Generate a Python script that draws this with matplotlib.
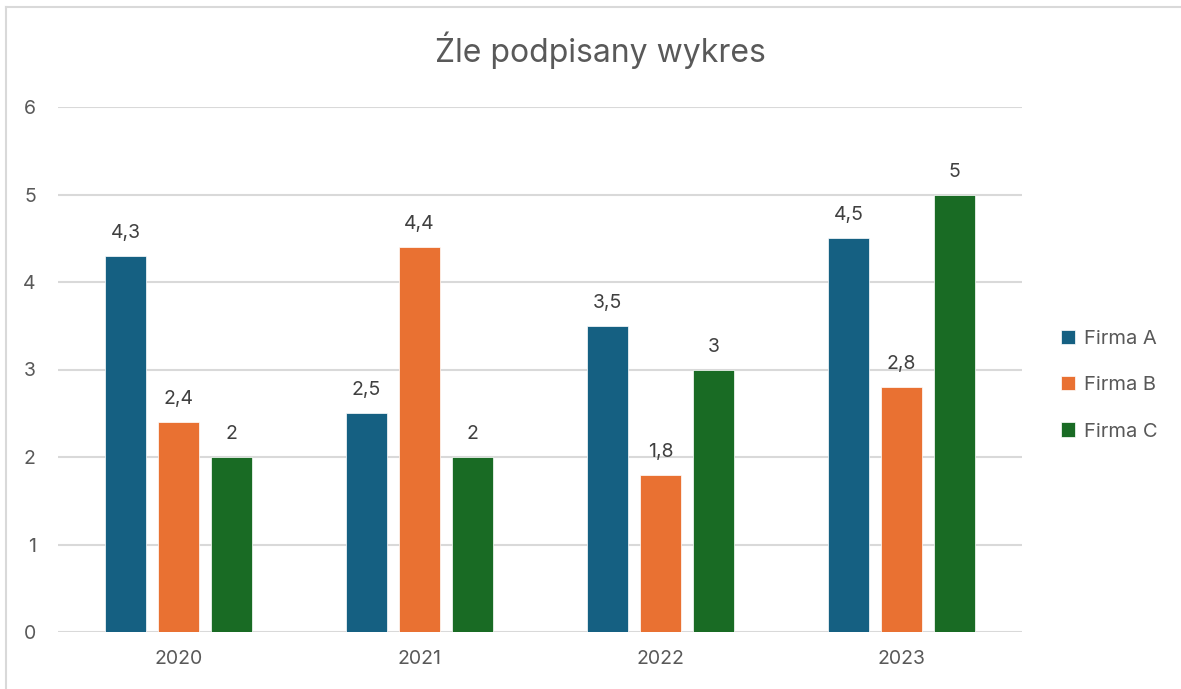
import matplotlib.pyplot as plt
import numpy as np

years = ["2020", "2021", "2022", "2023"]
series = ["Firma A", "Firma B", "Firma C"]
firma_a = [4.3, 2.5, 3.5, 4.5]
firma_b = [2.4, 4.4, 1.8, 2.8]
firma_c = [2.0, 2.0, 3.0, 5.0]
colors = ["#156082", "#E97132", "#196B24"]

plt.rcParams['font.family'] = ['Inter', 'DejaVu Sans']
txt = "#595959"

fig = plt.figure(figsize=(11.81, 6.89), dpi=100)
ax = fig.add_axes([58 / 1181, 57 / 689, 964 / 1181, 525 / 689])

x = np.arange(len(years))
width = 0.174
offset = 0.22
for i, (name, vals) in enumerate(zip(series, [firma_a, firma_b, firma_c])):
    bars = ax.bar(x + (i - 1) * offset, vals, width, color=colors[i], label=name,
                  edgecolor="white", linewidth=0.5, zorder=3)
    for b, v in zip(bars, vals):
        s = f"{v:g}".replace(".", ",")
        ax.annotate(s, (b.get_x() + b.get_width() / 2, v), xytext=(0, 10),
                    textcoords="offset points", ha="center", va="bottom",
                    fontsize=14, color="#404040")

ax.set_xlim(-0.5, 3.5)
ax.set_ylim(0, 6)
ax.set_yticks(range(7))
ax.set_xticks(x)
ax.set_xticklabels(years)
ax.grid(axis="y", color="#D9D9D9", linewidth=1.5, zorder=0)
for sp in ax.spines.values():
    sp.set_visible(False)
ax.tick_params(length=0, labelsize=14, colors=txt)
ax.tick_params(axis="y", pad=16)
ax.tick_params(axis="x", pad=13)

fig.text(600 / 1181, 1 - 50 / 689, "Źle podpisany wykres",
         ha="center", va="center", fontsize=23, color=txt)

ax.legend(loc="center left", bbox_to_anchor=(1.022, 0.47), frameon=False,
          fontsize=14.5, labelcolor=txt, handlelength=0.7, handleheight=0.7,
          labelspacing=1.4, handletextpad=0.45)

fig.add_artist(plt.Line2D([6 / 1181, 6 / 1181], [0, 1 - 7 / 689],
                          transform=fig.transFigure, color="#D9D9D9", linewidth=1.5))
fig.add_artist(plt.Line2D([6 / 1181, 1], [1 - 7 / 689, 1 - 7 / 689],
                          transform=fig.transFigure, color="#D9D9D9", linewidth=1.5))

fig.savefig("out.png", dpi=100)
